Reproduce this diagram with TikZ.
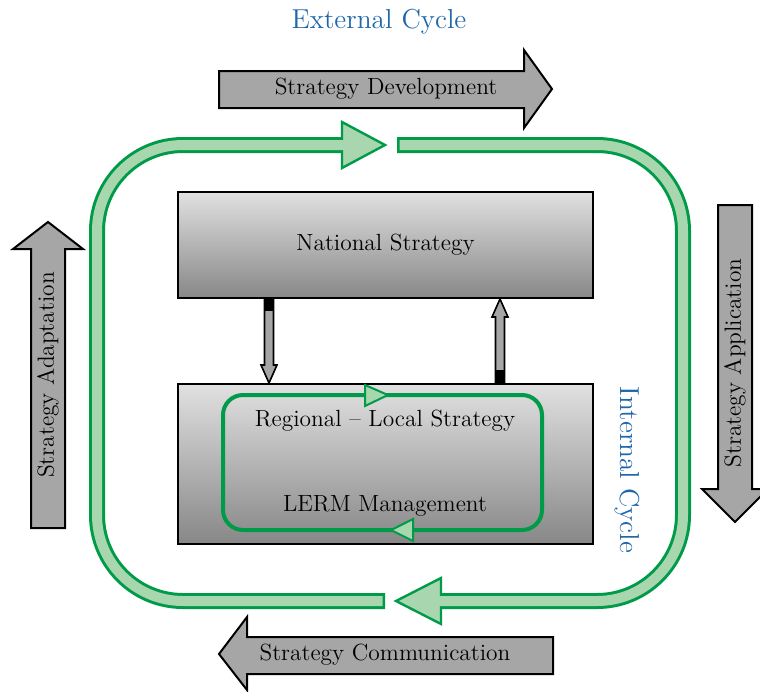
\documentclass[tikz,border=0pt]{standalone}
\usepackage{
	tikz,			% Drawing
	xcolor			% Colours
}
\usetikzlibrary{calc}
\definecolor{pipegreen}{RGB}{0,155,72}
\definecolor{pipefill}{RGB}{168,214,174}
\definecolor{cycleblue}{RGB}{31,102,170}

\begin{document}
\begin{tikzpicture}[x=0.5pt,y=-0.5pt,
	txt/.style={font=\fontsize{11.7}{13.5}\selectfont},
	cyclelabel/.style={text=cycleblue,font=\fontsize{13.7}{16}\selectfont},
	box/.style={draw=black,line width=1pt,top color=black!12,bottom color=black!47,minimum width=207.5pt,minimum height=53pt,inner sep=0pt},
	bigarrow/.style={fill=black!35,draw=black,line width=1pt},
	linkarrow/.style={fill=black!35,draw=black,line width=0.8pt},
	pipeedge/.style={draw=pipegreen,line width=8pt,rounded corners=43pt},
	pipecore/.style={draw=pipefill,line width=5pt,rounded corners=43pt},
	pipehead/.style={fill=pipefill,draw=pipegreen,line width=1.2pt},
	innercycle/.style={draw=pipegreen,line width=2pt,rounded corners=10pt},
	innerhead/.style={fill=pipefill,draw=pipegreen,line width=1pt}]
		\useasboundingbox (0,0) rectangle (760,691);
		\node[cyclelabel] (ext) at (379,22) {External Cycle};
		\node[cyclelabel,rotate=-90] (int) at (627,470) {Internal Cycle};
		\draw[pipeedge] (397,145) -- (683,145) -- (683,601) -- (441,601);
		\draw[pipeedge] (385,601) -- (97,601) -- (97,145) -- (342,145);
		\filldraw[pipehead] (441,578) -- (396,601) -- (441,624) -- cycle;
		\filldraw[pipehead] (342,122) -- (385,145) -- (342,168) -- cycle;
		\draw[pipecore] (399.5,145) -- (683,145) -- (683,601) -- (437,601);
		\draw[pipecore] (382.5,601) -- (97,601) -- (97,145) -- (346,145);
		\filldraw[bigarrow] (219,71) -- (524,71) -- (524,50) -- (552,89) -- (524,128) -- (524,108) -- (219,108) -- cycle;
		\node[txt] (dev) at (386,89) {Strategy Development};
		\filldraw[bigarrow] (553,637) -- (247,637) -- (247,617) -- (219,654) -- (247,690) -- (247,674) -- (553,674) -- cycle;
		\node[txt] (com) at (385,655) {Strategy Communication};
		\filldraw[bigarrow] (31,528) -- (31,249) -- (13,249) -- (48,222) -- (83,249) -- (65,249) -- (65,528) -- cycle;
		\node[txt,rotate=90] (ada) at (48,375) {Strategy Adaptation};
		\filldraw[bigarrow] (718,205) -- (752,205) -- (752,489) -- (768,489) -- (735,522) -- (702,489) -- (718,489) -- cycle;
		\node[txt,rotate=90] (app) at (735,363) {Strategy Application};
		\node[box,txt] (nat) at (385.5,245) {National Strategy};
		\node[box,minimum height=80pt] (reg) at (385,464) {};
		\draw[innercycle] (223,395) rectangle (542,530);
		\filldraw[innerhead] (365,385) -- (388,395) -- (365,406) -- cycle;
		\filldraw[innerhead] (413,519) -- (391,530) -- (413,541) -- cycle;
		\node[txt] (regional) at (385,421) {Regional -- Local Strategy};
		\node[txt] (lerm) at (385,506) {LERM Management};
		\coordinate (downx) at (269,0);
		\coordinate (upx) at (500,0);
		\filldraw[linkarrow] ($(nat.south -| downx)+(-4.5,0)$) -- ($(reg.north -| downx)+(-4.5,-18)$) -- ($(reg.north -| downx)+(-8,-18)$) -- (reg.north -| downx) -- ($(reg.north -| downx)+(8,-18)$) -- ($(reg.north -| downx)+(4.5,-18)$) -- ($(nat.south -| downx)+(4.5,0)$) -- cycle;
		\fill ($(nat.south -| downx)+(-4.5,0)$) rectangle ($(nat.south -| downx)+(4.5,12)$);
		\filldraw[linkarrow] ($(reg.north -| upx)+(-4.5,0)$) -- ($(nat.south -| upx)+(-4.5,18)$) -- ($(nat.south -| upx)+(-8,18)$) -- (nat.south -| upx) -- ($(nat.south -| upx)+(8,18)$) -- ($(nat.south -| upx)+(4.5,18)$) -- ($(reg.north -| upx)+(4.5,0)$) -- cycle;
		\fill ($(reg.north -| upx)+(-4.5,0)$) rectangle ($(reg.north -| upx)+(4.5,-13)$);
	\end{tikzpicture}
\end{document}
